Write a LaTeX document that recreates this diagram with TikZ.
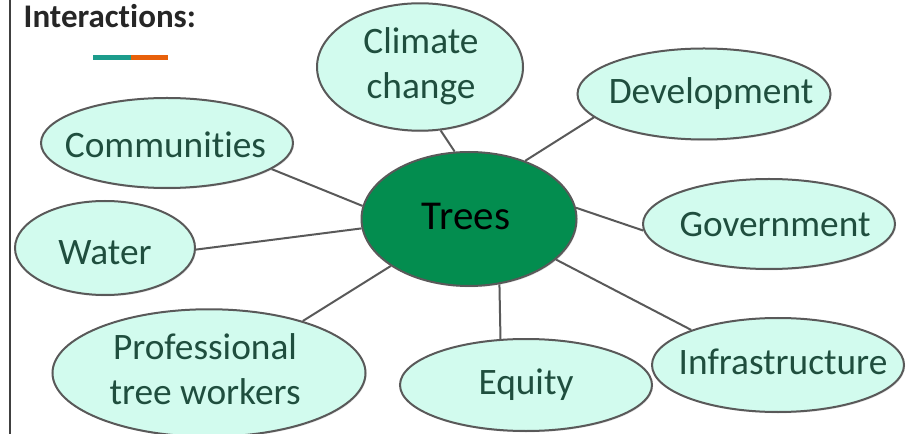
\documentclass[tikz,border=0pt]{standalone}
\usepackage{fontspec}
\setmainfont{Carlito}[Ligatures={NoCommon}]
\usetikzlibrary{shapes.geometric,backgrounds,shadows}
\definecolor{mint}{HTML}{D2FBEE}
\definecolor{treegreen}{HTML}{038D4F}
\definecolor{edgegrey}{HTML}{595959}
\definecolor{txtgreen}{HTML}{1F4E3E}
\definecolor{barteal}{HTML}{1C9C8C}
\definecolor{barorange}{HTML}{E8600A}
% #1 = x shift (px), #2 = y shift down (px), #3 = text
\newcommand\zb[3]{\raisebox{-#2\dimexpr0.75pt\relax}{\makebox[0pt]{\kern#1\dimexpr1.5pt\relax #3}}}
\newcommand\zt[4]{\raisebox{-#2\dimexpr1.5pt\relax}{\makebox[0pt]{\kern#1\dimexpr1.5pt\relax\begin{tabular}{@{}c@{}}#3\\#4\end{tabular}}}}
\tikzset{
  ell/.style 2 args={ellipse, draw=edgegrey, line width=1.5pt, inner sep=0pt,
    minimum width=#1*0.75pt, minimum height=#2*0.75pt,
    drop shadow={shadow xshift=0.8pt, shadow yshift=-1pt, opacity=0.2}},
  outer/.style={fill=mint, text=txtgreen, font=\fontsize{28}{33.8}\selectfont},
  oneline/.style={text height=20.2pt, text depth=5.6pt},
  conn/.style={draw=edgegrey, line width=1.5pt},
}
\begin{document}
\begin{tikzpicture}[x=0.75pt,y=-0.75pt]
\useasboundingbox (0,0) rectangle (920,434);
\draw[line width=1.2pt, black!75] (10,0) -- (10,434);
\node[anchor=base west, font=\fontsize{24.75}{30}\selectfont\bfseries, text=black!85] (title) at (19,28) {Interactions:};
\fill[barteal] (93,55) rectangle (131,60);
\fill[barorange] (131,55) rectangle (168,60);

\node[ell={215}{134}, fill=treegreen, text=black, font=\fontsize{30.75}{36}\selectfont, text height=22.1pt, text depth=6.2pt] (trees) at (469,219) {\zb{-3}{0}{Trees}};
\node[ell={206}{120}, outer] (climate) at (420,67) {\zt{1}{1}{Climate}{change}};
\node[ell={253}{91}, outer, oneline] (dev) at (704,94) {\zb{7}{0}{Development}};
\node[ell={252}{90}, outer, oneline] (comm) at (167,143) {\zb{-1.5}{4.5}{Communities}};
\node[ell={180}{94}, outer, oneline] (water) at (105,248) {\zb{0}{6.5}{Water}};
\node[ell={252}{90}, outer, oneline] (gov) at (769,224) {\zb{6}{2.5}{Government}};
\node[ell={313}{120}, outer] (prof) at (209,373) {\zt{-4}{4}{Professional}{tree workers}};
\node[ell={252}{92}, outer, oneline] (equity) at (526,385) {\zb{0}{0}{Equity}};
\node[ell={252}{94}, outer, oneline] (infra) at (778,365) {\zb{5}{0}{Infrastructure}};

\begin{pgfonlayer}{background}
\draw[conn] (trees.102) -- (climate.-72);
\draw[conn] (trees.46.5) -- (dev.192);
\draw[conn] (trees.6) -- (gov.183);
\draw[conn] (trees.-25.5) -- (infra.158.4);
\draw[conn] (trees.-65) -- (equity.119.5);
\draw[conn] (trees.211.4) -- (prof.29.6);
\draw[conn] (trees.185) -- (water.-1.3);
\draw[conn] (trees.173.5) -- (comm.-14.7);
\end{pgfonlayer}
\end{tikzpicture}
\end{document}
